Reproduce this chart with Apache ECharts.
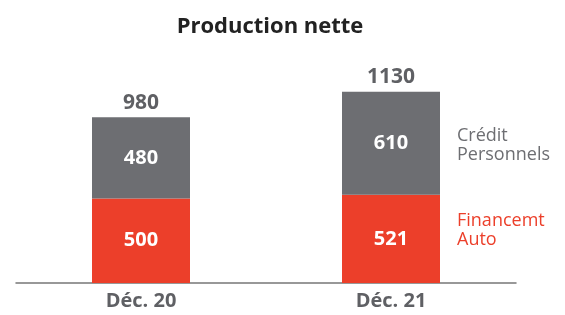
<!DOCTYPE html>
<html>
<head>
<meta charset="utf-8">
<script src="https://cdn.jsdelivr.net/npm/echarts@6/dist/echarts.min.js"></script>
<style>
  html, body { margin: 0; padding: 0; background: #fff; }
  #chart { width: 565px; height: 315px; }
</style>
</head>
<body>
<div id="chart"></div>
<script>
var categories = ['Déc. 20', 'Déc. 21'];
var financement = [500, 521];
var credit = [480, 610];
var totals = [980, 1130];

var chart = echarts.init(document.getElementById('chart'));

var font = '"Open Sans", sans-serif';

var option = {
    animation: false,
    textStyle: { fontFamily: font },
    title: {
        text: 'Production nette',
        left: 265,
        textAlign: 'center',
        top: 11,
        textStyle: { fontSize: 22, fontWeight: 'bold', color: '#222', fontFamily: font }
    },
    legend: {
        orient: 'vertical',
        left: 452,
        top: 126,
        padding: 0,
        itemGap: 47,
        itemWidth: 0,
        itemHeight: 0,
        icon: 'none',
        selectedMode: false,
        formatter: function (name) { return name.replace(' ', '\n'); },
        data: [
            { name: 'Crédit Personnels', textStyle: { color: '#6d6e72' } },
            { name: 'Financemt Auto', textStyle: { color: '#ec3f2a' } }
        ],
        textStyle: { fontSize: 18, lineHeight: 19, fontFamily: font, padding: 0 }
    },
    grid: {
        left: 16,
        width: 500,
        top: 80,
        bottom: 32,
        containLabel: false
    },
    xAxis: {
        type: 'category',
        data: categories,
        axisTick: { show: false },
        axisLine: { lineStyle: { color: '#777', width: 1.5 } },
        axisLabel: { color: '#5f6064', fontSize: 20, fontWeight: 'bold', margin: 8, fontFamily: font }
    },
    yAxis: {
        type: 'value',
        min: 0,
        max: 1200,
        show: false
    },
    series: [{
        name: 'Financemt Auto',
        type: 'bar',
        stack: 'total',
        barWidth: 98,
        data: financement,
        itemStyle: { color: '#ec3f2a' },
        label: { show: true, position: 'inside', color: '#fff', fontSize: 20, fontWeight: 'bold', fontFamily: font }
    }, {
        name: 'Crédit Personnels',
        type: 'bar',
        stack: 'total',
        barWidth: 98,
        data: credit,
        itemStyle: { color: '#6d6e72' },
        label: { show: true, position: 'inside', color: '#fff', fontSize: 20, fontWeight: 'bold', fontFamily: font }
    }, {
        name: 'Total',
        type: 'bar',
        stack: 'total',
        barWidth: 98,
        data: [0, 0],
        itemStyle: { color: 'transparent' },
        label: {
            show: true,
            position: 'top',
            distance: 4,
            color: '#5f6064',
            fontSize: 21,
            fontWeight: 'bold',
            fontFamily: font,
            formatter: function (p) { return totals[p.dataIndex]; }
        }
    }]
};

chart.setOption(option);
</script>
</body>
</html>
